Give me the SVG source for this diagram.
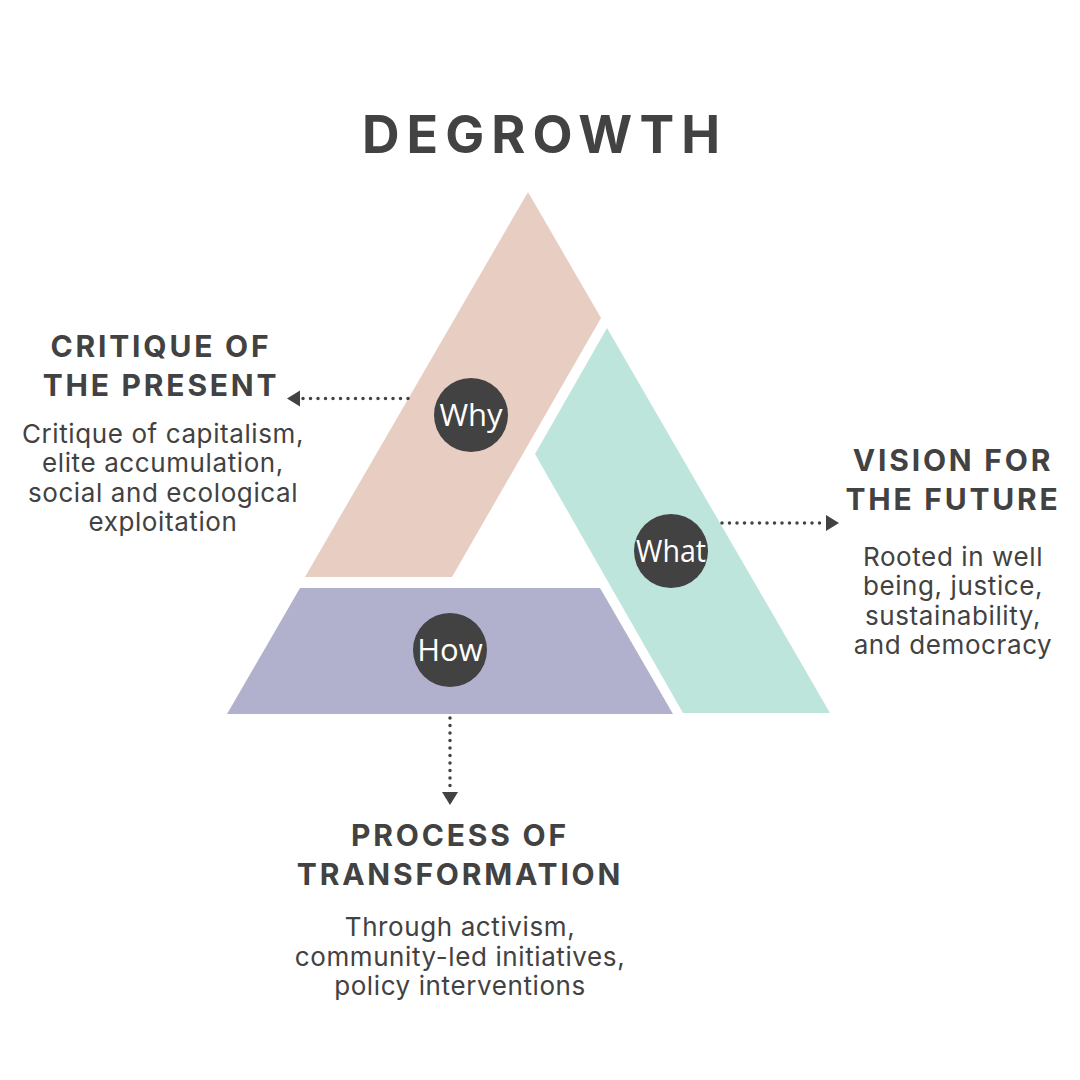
<svg xmlns="http://www.w3.org/2000/svg" width="1080" height="1080" viewBox="0 0 1080 1080">
<defs>
<style>
.title{font-family:Inter,"Liberation Sans",sans-serif;font-weight:700;font-size:52px;fill:#424242;text-anchor:middle}
.head{font-family:Inter,"Liberation Sans",sans-serif;font-weight:700;font-size:30px;fill:#424242;text-anchor:middle;letter-spacing:2.8px}
.body{font-family:Inter,"Liberation Sans",sans-serif;font-weight:400;font-size:26px;fill:#424242;text-anchor:middle;letter-spacing:0.6px}
.lbl{font-family:"Open Sans","Liberation Sans",sans-serif;font-size:31px;fill:#ffffff;text-anchor:middle}
.dot{fill:#424242}
.conn{stroke:#424242;stroke-width:3.5;stroke-linecap:round;stroke-dasharray:0 7.5;fill:none}
</style>
<marker id="ah" markerUnits="userSpaceOnUse" markerWidth="15" markerHeight="17" refX="0" refY="8" orient="auto">
<path d="M0,0 L13,8 L0,16 z" fill="#424242"/>
</marker>
</defs>
<rect width="1080" height="1080" fill="#ffffff"/>
<text class="title" x="541" y="153" textLength="358" lengthAdjust="spacing">DEGROWTH</text>

<g id="why">
<polygon points="528,192 601,318 452,577 305,577" fill="#E7CDC2"/>
<circle class="dot" cx="471" cy="415" r="37"/>
<text class="lbl" x="471" y="426">Why</text>
</g>
<g id="what">
<polygon points="607,328 830,713 683,713 535,454" fill="#BDE5DC"/>
<circle class="dot" cx="671" cy="551" r="37"/>
<text class="lbl" x="671" y="562" textLength="70" lengthAdjust="spacingAndGlyphs">What</text>
</g>
<g id="how">
<polygon points="300,588 600,588 673,714 227,714" fill="#B1B1CE"/>
<circle class="dot" cx="450" cy="650" r="37"/>
<text class="lbl" x="450" y="661">How</text>
</g>

<g id="connectors">
<line class="conn" x1="408" y1="398.5" x2="300" y2="398.5" marker-end="url(#ah)"/>
<line class="conn" x1="722" y1="523" x2="826" y2="523" marker-end="url(#ah)"/>
<line class="conn" x1="450" y1="718" x2="450" y2="792" marker-end="url(#ah)"/>
</g>

<g id="critique">
<text class="head" x="161" y="357">CRITIQUE OF</text>
<text class="head" x="161" y="396">THE PRESENT</text>
<text class="body" x="163" y="443">Critique of capitalism,</text>
<text class="body" x="163" y="472">elite accumulation,</text>
<text class="body" x="163" y="502">social and ecological</text>
<text class="body" x="163" y="531">exploitation</text>
</g>
<g id="vision">
<text class="head" x="953" y="471">VISION FOR</text>
<text class="head" x="953" y="510">THE FUTURE</text>
<text class="body" x="953" y="566">Rooted in well</text>
<text class="body" x="953" y="595">being, justice,</text>
<text class="body" x="953" y="625">sustainability,</text>
<text class="body" x="953" y="654">and democracy</text>
</g>
<g id="process">
<text class="head" x="460" y="846">PROCESS OF</text>
<text class="head" x="460" y="885">TRANSFORMATION</text>
<text class="body" x="460" y="936">Through activism,</text>
<text class="body" x="460" y="966">community-led initiatives,</text>
<text class="body" x="460" y="995">policy interventions</text>
</g>
</svg>
